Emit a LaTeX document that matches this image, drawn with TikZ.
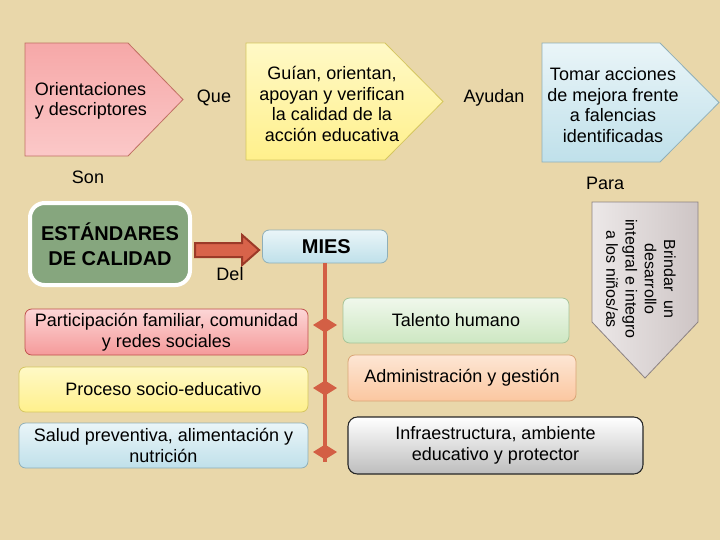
\documentclass[tikz,border=0pt]{standalone}
\usepackage{fontspec}
\setmainfont{Liberation Sans}
\usetikzlibrary{shapes.geometric,calc}
\definecolor{bgcol}{HTML}{E9D7AA}
\definecolor{linered}{HTML}{D35F45}
\definecolor{arrowfill}{HTML}{D8634A}
\definecolor{arrowdraw}{HTML}{9C3A28}
\definecolor{estfill}{HTML}{86A67E}
\definecolor{HTMLc0504d}{HTML}{C0504D}
\definecolor{HTMLfcd6d6}{HTML}{FCD6D6}
\definecolor{HTMLf59a9a}{HTML}{F59A9A}
\definecolor{pentpinkT}{HTML}{F6A8A8}
\definecolor{pentpinkB}{HTML}{FBC8C8}
\definecolor{pentpinkD}{HTML}{C07062}
\definecolor{yelT}{HTML}{FFF9C6}
\definecolor{yelB}{HTML}{FFF08C}
\definecolor{yelD}{HTML}{D5C660}
\definecolor{bluT}{HTML}{EAF5F8}
\definecolor{bluB}{HTML}{BFE0EA}
\definecolor{bluD}{HTML}{8FAFB8}
\definecolor{grnT}{HTML}{F0F8EC}
\definecolor{grnB}{HTML}{CDE7C2}
\definecolor{grnD}{HTML}{A5C397}
\definecolor{orT}{HTML}{FDE6D4}
\definecolor{orB}{HTML}{FBC7A0}
\definecolor{orD}{HTML}{D9A475}
\definecolor{gryT}{HTML}{FFFFFF}
\definecolor{gryB}{HTML}{BDBDBD}
\definecolor{vpL}{HTML}{ECE8E8}
\definecolor{vpR}{HTML}{CEC5C5}
\definecolor{vpD}{HTML}{8C8282}
\tikzset{
  txt/.style={font=\fontsize{13.5}{15.5}\selectfont, align=center, inner sep=0pt},
  rbox/.style={rounded corners=5pt, line width=0.6pt, inner sep=0pt, align=center,
               font=\fontsize{13.5}{15.5}\selectfont},
  pinkbox/.style={rbox, draw=HTMLc0504d, top color=HTMLfcd6d6, bottom color=HTMLf59a9a},
  redline/.style={draw=linered, line width=3pt},
  diamfill/.style={fill=linered, draw=none},
}
\begin{document}
\begin{tikzpicture}[x=0.75pt,y=-0.75pt]
\fill[bgcol] (0,0) rectangle (720,540);
\useasboundingbox (0,0) rectangle (720,540);

% top pentagons
\draw[draw=pentpinkD, line width=0.6pt, top color=pentpinkT, bottom color=pentpinkB]
  (25,43) -- (128,43) -- (183,99.5) -- (128,156) -- (25,156) -- cycle;
\draw[draw=yelD, line width=0.6pt, top color=yelT, bottom color=yelB]
  (246,43) -- (385,43) -- (443,101.5) -- (385,160) -- (246,160) -- cycle;
\draw[draw=bluD, line width=0.6pt, top color=bluT, bottom color=bluB]
  (542,43) -- (660,43) -- (719,102.5) -- (660,162) -- (542,162) -- cycle;

\node[txt, align=left] (orient) at (91,101) {Orientaciones\\y descriptores};
\node[txt] (que) at (214,98) {Que};
\node[txt] (guian) at (332,104) {Guían, orientan,\\apoyan y verifican\\la calidad de la\\acción educativa};
\node[txt] (ayudan) at (494,98) {Ayudan};
\node[txt] (tomar) at (613,105) {Tomar acciones\\de mejora frente\\a falencias\\identificadas};
\node[txt] (son) at (88,177) {Son};
\node[txt] (para) at (605,183) {Para};

% vertical pentagon
\draw[draw=vpD, line width=0.6pt, left color=vpL, right color=vpR]
  (592,202) -- (698,202) -- (698,322) -- (645,378) -- (592,322) -- cycle;
\node[rotate=-90, align=center, inner sep=0pt, font=\fontsize{12}{14.4}\selectfont] (brindar) at (641,279)
  {Brindar\ \ un\\desarrollo\\integral e integro\\a los niños/as};

% ESTANDARES
\node[rounded corners=11pt, fill=estfill, draw=white, line width=3pt,
      minimum width=120pt, minimum height=61.5pt, inner sep=0pt, align=center,
      font=\fontsize{15}{18.5}\selectfont\bfseries] (est) at (110,244) {ESTÁNDARES\\DE CALIDAD};

% MIES
\node[rbox, draw=bluD, top color=bluT, bottom color=bluB,
      minimum width=93.75pt, minimum height=24.75pt,
      font=\fontsize{15}{18}\selectfont\bfseries] (mies) at (325,246.5) {\hspace*{2pt}MIES};

% block arrow
\coordinate (a0) at ($(est.east)+(3,6)$);
\coordinate (a1) at ($(mies.west)+(-3,3.5)$);
\draw[fill=arrowfill, draw=arrowdraw, line width=1.5pt, line join=miter]
  ($(a0)+(0,-7)$) -- ($(a1)+(-17,-7)$) -- ($(a1)+(-17,-15)$) -- (a1)
  -- ($(a1)+(-17,15)$) -- ($(a1)+(-17,7)$) -- ($(a0)+(0,7)$) -- cycle;
\node[txt] (del) at (230,274) {Del};

% left boxes
\node[pinkbox, minimum width=212.25pt, minimum height=34.5pt] (part) at (166.5,332)
  {Participación familiar, comunidad\\y redes sociales};
\node[rbox, draw=yelD, top color=yelT, bottom color=yelB,
      minimum width=216.75pt, minimum height=33.75pt] (proc) at (163.5,389.5)
  {Proceso socio-educativo};
\node[rbox, draw=bluD, top color=bluT, bottom color=bluB,
      minimum width=216.75pt, minimum height=33.75pt] (salud) at (163.5,445.5)
  {Salud preventiva, alimentación y\\nutrición};

% right boxes
\node[rbox, draw=grnD, top color=grnT, bottom color=grnB,
      minimum width=169.5pt, minimum height=33.75pt] (talento) at (456,320.5)
  {Talento humano};
\node[rbox, draw=orD, top color=orT, bottom color=orB,
      minimum width=171pt, minimum height=34.5pt] (admin) at (462,378)
  {Administración y gestión};
\node[rbox, draw=black!85, line width=0.8pt, rounded corners=7pt, top color=gryT, bottom color=gryB,
      minimum width=221.25pt, minimum height=42.75pt] (infra) at (495.5,445.5)
  {Infraestructura, ambiente\\educativo y protector};

% spine
\coordinate (spineend) at (325,462);
\draw[redline] (mies.south) -- (spineend);
\coordinate (d1) at (325,325);
\coordinate (d2) at (325,388);
\coordinate (d3) at (325,452);
\foreach \d in {d1,d2,d3}{
  \fill[diamfill] ($(\d)+(-12,0)$) -- ($(\d)+(0,-7.5)$) -- ($(\d)+(12,0)$) -- ($(\d)+(0,7.5)$) -- cycle;
}
\end{tikzpicture}
\end{document}
